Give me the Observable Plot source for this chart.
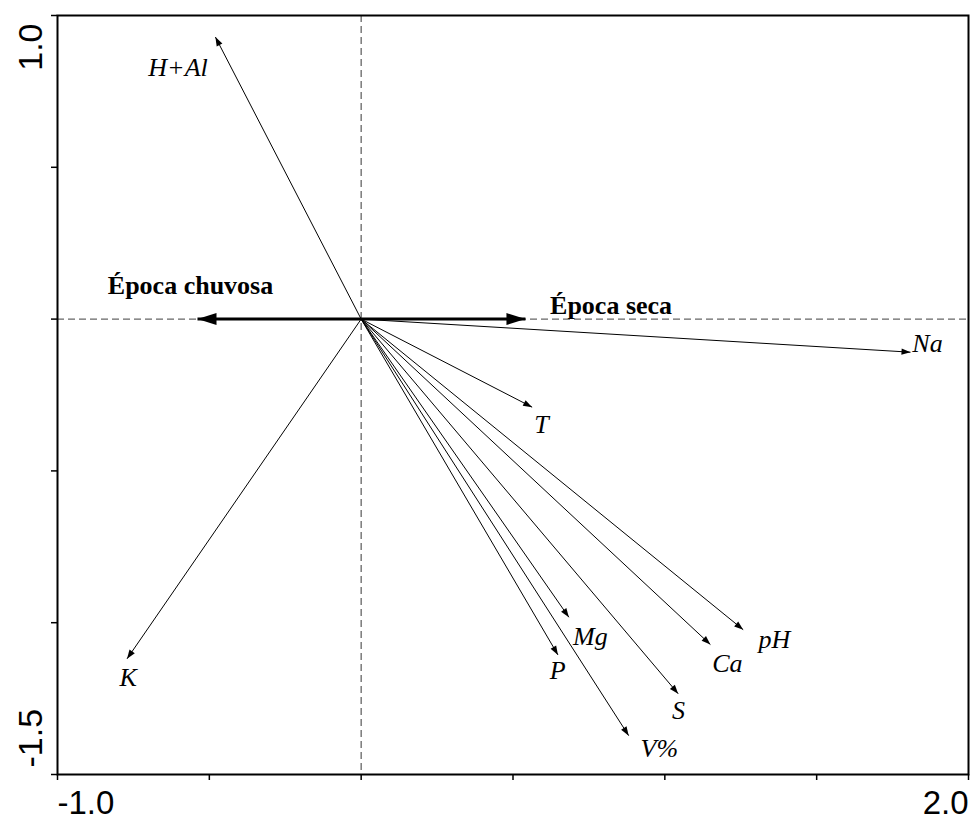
<!DOCTYPE html>
<html>
<head>
<meta charset="utf-8">
<script src="https://cdn.jsdelivr.net/npm/d3@7"></script>
<script src="https://cdn.jsdelivr.net/npm/@observablehq/plot@0.6"></script>
<style>body{margin:0;background:#fff}</style>
</head>
<body>
<div id="chart"></div>
<script>
// Variable vectors (biplot arrows)
const variables = ["H+Al", "Na", "T", "Mg", "P", "Ca", "pH", "S", "V%", "K"];
const axis1 = [-0.480, 1.809, 0.563, 0.684, 0.648, 1.150, 1.258, 1.044, 0.881, -0.771];
const axis2 = [0.929, -0.109, -0.290, -0.982, -1.106, -1.072, -1.023, -1.234, -1.372, -1.119];
// Label anchor positions (data units)
const labelX = [-0.603, 1.865, 0.594, 0.755, 0.647, 1.206, 1.361, 1.045, 0.982, -0.767];
const labelY = [0.802, -0.110, -0.374, -1.075, -1.187, -1.161, -1.082, -1.316, -1.444, -1.207];

// Season vectors
const seasons = ["Época chuvosa", "Época seca"];
const seasonX = [-0.539, 0.541];
const seasonY = [0, 0];
const seasonLabelX = [-0.562, 0.823];
const seasonLabelY = [0.084, 0.018];

// Axis ticks and labels
const xTicks = [-1, -0.5, 0, 0.5, 1, 1.5, 2];
const yTicks = [-1.5, -1, -0.5, 0, 0.5, 1];
const xLabelValues = [-1, 2];
const xLabelText = ["-1.0", "2.0"];
const yLabelValues = [1, -1.5];
const yLabelText = ["1.0", "-1.5"];

const vars = variables.map((name, i) => ({name, x: axis1[i], y: axis2[i], lx: labelX[i], ly: labelY[i]}));
const seas = seasons.map((name, i) => ({name, x: seasonX[i], y: seasonY[i], lx: seasonLabelX[i], ly: seasonLabelY[i]}));

const head = (len, half) => (color) => {
  const m = d3.create("svg:marker")
    .attr("viewBox", `${-len - 1} ${-half - 1} ${len + 2} ${2 * half + 2}`)
    .attr("markerWidth", len + 2)
    .attr("markerHeight", 2 * half + 2)
    .attr("markerUnits", "userSpaceOnUse")
    .attr("refX", 0)
    .attr("refY", 0)
    .attr("orient", "auto")
    .attr("overflow", "visible");
  m.append("path")
    .attr("d", `M0,0L${-len},${-half}L${-len},${half}Z`)
    .attr("fill", color)
    .attr("stroke", "none");
  return m.node();
};

const serif = "Liberation Serif, Times New Roman, Times, serif";
const sans = "Liberation Sans, Arial, Helvetica, sans-serif";

const plot = Plot.plot({
  width: 971,
  height: 819,
  marginLeft: 57,
  marginRight: 3,
  marginTop: 15,
  marginBottom: 45,
  x: {domain: [-1, 2], label: null},
  y: {domain: [-1.5, 1], label: null},
  style: {background: "white", color: "black"},
  marks: [
    Plot.ruleX([0], {stroke: "#666", strokeWidth: 1.3, strokeDasharray: "7,4"}),
    Plot.ruleY([0], {stroke: "#666", strokeWidth: 1.3, strokeDasharray: "7,4"}),
    Plot.link(vars, {x1: 0, y1: 0, x2: "x", y2: "y", stroke: "black", strokeWidth: 1, markerEnd: head(9, 3.2)}),
    Plot.link(seas, {x1: 0, y1: 0, x2: "x", y2: "y", stroke: "black", strokeWidth: 3, markerEnd: head(19, 6)}),
    Plot.text(vars, {x: "lx", y: "ly", text: "name", textAnchor: "middle", lineAnchor: "bottom",
      fontStyle: "italic", fontFamily: serif, fontSize: 26, fill: "black"}),
    Plot.text(seas, {x: "lx", y: "ly", text: "name", textAnchor: "middle", lineAnchor: "bottom",
      fontWeight: "bold", fontFamily: serif, fontSize: 26, fill: "black"}),
    Plot.frame({stroke: "black", strokeWidth: 2}),
    Plot.axisX(xTicks, {tickSize: 6, strokeWidth: 1.5, tickFormat: () => "", label: null}),
    Plot.axisY(yTicks, {tickSize: 6, strokeWidth: 1.5, tickFormat: () => "", label: null}),
    Plot.text([xLabelValues[0]], {x: d => d, text: () => xLabelText[0], frameAnchor: "bottom", dy: 39,
      textAnchor: "start", lineAnchor: "bottom", fontSize: 33, fontFamily: sans, fill: "black"}),
    Plot.text([xLabelValues[1]], {x: d => d, text: () => xLabelText[1], frameAnchor: "bottom", dy: 39,
      textAnchor: "end", lineAnchor: "bottom", fontSize: 33, fontFamily: sans, fill: "black"}),
    Plot.text([yLabelValues[0]], {y: d => d, text: () => yLabelText[0], frameAnchor: "left", dx: -16, dy: 8,
      rotate: -90, textAnchor: "end", lineAnchor: "bottom", fontSize: 34, fontFamily: sans, fill: "black"}),
    Plot.text([yLabelValues[1]], {y: d => d, text: () => yLabelText[1], frameAnchor: "left", dx: -16, dy: -7,
      rotate: -90, textAnchor: "start", lineAnchor: "bottom", fontSize: 34, fontFamily: sans, fill: "black"})
  ]
});
document.getElementById("chart").append(plot);
</script>
</body>
</html>
